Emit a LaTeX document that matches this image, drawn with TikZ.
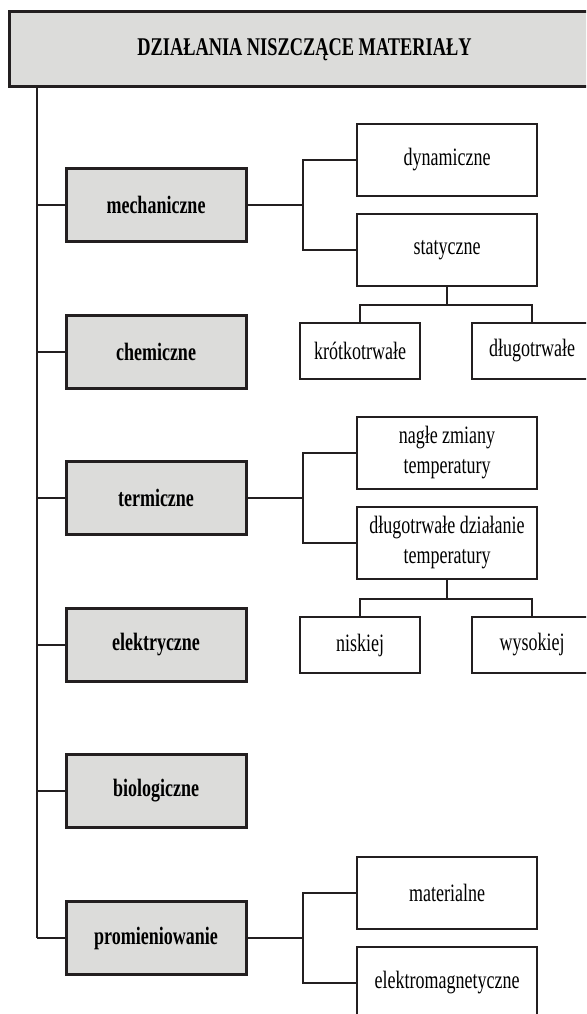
\documentclass[tikz,border=0pt]{standalone}
\usepackage{fontspec}
\setmainfont[FakeStretch=0.72]{Liberation Serif}
\definecolor{boxgray}{HTML}{DCDCDA}
\definecolor{ink}{HTML}{231F20}
\begin{document}
\begin{tikzpicture}[x=1pt, y=-1pt,
		cat/.style={rectangle, draw=ink, fill=boxgray, line width=3pt, minimum width=180pt, minimum height=73pt, font=\fontsize{25}{28}\selectfont\bfseries},
		leaf/.style={rectangle, draw=ink, line width=2pt, minimum width=180pt, minimum height=72pt, align=center, font=\fontsize{25}{30}\selectfont},
		small/.style={leaf, minimum width=120pt, minimum height=56pt},
		link/.style={draw=ink, line width=2pt}]
			\useasboundingbox (0,0) rectangle (586,1014);
			\clip (0,0) rectangle (586,1014);

			% Define nodes with their coordinates
			\node[cat, minimum width=591pt, minimum height=75pt, font=\fontsize{25.5}{28}\selectfont\bfseries] (root) at (304.5,49.5) {DZIAŁANIA NISZCZĄCE MATERIAŁY};
			\coordinate (trunk) at (37,87);

			\node[cat] (mech) at (156,205) {mechaniczne};
			\node[cat] (chem) at (156,352) {chemiczne};
			\node[cat] (term) at (156,498) {termiczne};
			\node[cat] (elek) at (156,645) {elektryczne};
			\node[cat] (bio) at (156,791) {biologiczne};
			\node[cat] (prom) at (156,938) {promieniowanie};

			\node[leaf] (dyn) at (447,160) {dynamiczne};
			\node[leaf] (stat) at (447,250) {statyczne};
			\node[small] (krot) at (360,351) {krótkotrwałe};
			\node[small] (dlug) at (532,351) {długotrwałe};

			\node[leaf] (nagle) at (447,453) {nagłe zmiany\\temperatury};
			\node[leaf] (dzial) at (447,543) {długotrwałe działanie\\temperatury};
			\node[small] (nisk) at (360,645) {niskiej};
			\node[small] (wys) at (532,645) {wysokiej};

			\node[leaf] (mat) at (447,893) {materialne};
			\node[leaf] (emag) at (447,983) {elektromagnetyczne};

			% Draw the trunk and the branches
			\draw[link] (trunk) -- (trunk |- prom.west);
			\foreach \n in {mech, chem, term, elek, bio, prom}
				\draw[link] (\n.west) -- (\n.west -| trunk);

			\draw[link] (mech.east) -- ++(55,0) coordinate (b1) |- (dyn.west) (b1) |- (stat.west);
			\draw[link] (term.east) -- ++(55,0) coordinate (b2) |- (nagle.west) (b2) |- (dzial.west);
			\draw[link] (prom.east) -- ++(55,0) coordinate (b3) |- (mat.west) (b3) |- (emag.west);

			\draw[link] (stat.south) -- ++(0,18) coordinate (s1) -| (krot.north) (s1) -| (dlug.north);
			\draw[link] (dzial.south) -- ++(0,19) coordinate (s2) -| (nisk.north) (s2) -| (wys.north);

		\end{tikzpicture}
\end{document}
